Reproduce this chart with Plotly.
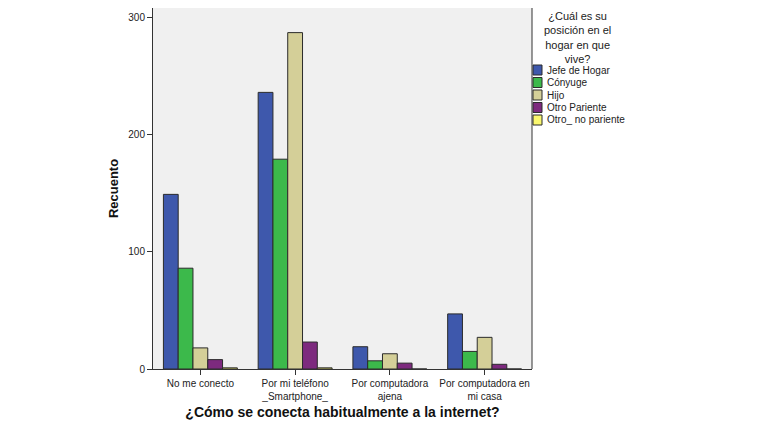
import plotly.graph_objects as go

# categorias del eje X
categorias = ["No me conecto", "Por mi teléfono<br>_Smartphone_",
              "Por computadora<br>ajena", "Por computadora en<br>mi casa"]

# series (posición en el hogar)
series = ["Jefe de Hogar", "Cónyuge", "Hijo", "Otro Pariente", "Otro_ no pariente"]
jefe = [149, 236, 19, 47]
conyuge = [86, 179, 7, 15]
hijo = [18, 287, 13, 27]
otro_pariente = [8, 23, 5, 4]
otro_no_pariente = [1, 1, 0, 0]
valores = [jefe, conyuge, hijo, otro_pariente, otro_no_pariente]

titulo_leyenda = "¿Cuál es su<br>posición en el<br>hogar en que<br>vive?"

colores = ["#3E58AC", "#3CB94B", "#D4CF98", "#7D2A7E", "#FAF76E"]

fuente = "Arial, Liberation Sans, sans-serif"

# la página html deja 8px de margen, así que la figura es un poco más chica
ancho, alto = 762, 422
m_izq, m_der, m_arr, m_aba = 145, 238, 0, 61
alto_plot = alto - m_arr - m_aba
ancho_plot = ancho - m_izq - m_der

fig = go.Figure()
for nombre, vals, col in zip(series, valores, colores):
    fig.add_trace(go.Bar(x=categorias, y=vals, name=nombre,
                         marker=dict(color=col, line=dict(color="#2b2b2b", width=1)),
                         showlegend=False))

# leyenda dibujada a mano (SPSS la pone muy compacta)
anots = [dict(text=titulo_leyenda, xref="paper", yref="paper",
              x=1 + 45 / ancho_plot, y=1, xanchor="center", yanchor="top",
              showarrow=False, align="center",
              font=dict(size=11, color="#222", family=fuente))]
formas = []
for i, (nombre, col) in enumerate(zip(series, colores)):
    yc = 1 - (62 + i * 12.5) / alto_plot
    anots.append(dict(text=nombre, xref="paper", yref="paper", x=1 + 13 / ancho_plot, y=yc,
                      xanchor="left", yanchor="middle", showarrow=False,
                      font=dict(size=10, color="#222", family=fuente)))
    formas.append(dict(type="rect", xref="paper", yref="paper",
                       x0=1 + 1 / ancho_plot, x1=1 + 10 / ancho_plot,
                       y0=yc - 5 / alto_plot, y1=yc + 5 / alto_plot,
                       fillcolor=col, line=dict(color="#2b2b2b", width=1)))
# borde derecho del área de trazado
formas.append(dict(type="line", xref="paper", yref="paper", x0=1, x1=1, y0=0, y1=1,
                   line=dict(color="#333", width=1)))

fig.update_layout(
    width=ancho, height=alto,
    margin=dict(l=m_izq, r=m_der, t=m_arr, b=m_aba),
    paper_bgcolor="white", plot_bgcolor="#F0F0F0",
    barmode="group", bargap=0.22, bargroupgap=0,
    font=dict(family=fuente, size=10, color="#222"),
    annotations=anots, shapes=formas,
)
fig.update_xaxes(title=dict(text="<b>¿Cómo se conecta habitualmente a la internet?</b>",
                            font=dict(size=14, color="#111"), standoff=6),
                 showline=True, linecolor="#333", linewidth=1,
                 ticks="outside", ticklen=5, tickcolor="#333", showgrid=False,
                 tickfont=dict(size=10))
fig.update_yaxes(title=dict(text="<b>Recuento</b>", font=dict(size=13, color="#111"), standoff=6),
                 range=[0, 308], tickvals=[0, 100, 200, 300],
                 showline=True, linecolor="#333", linewidth=1,
                 ticks="outside", ticklen=5, tickcolor="#333", showgrid=False,
                 zeroline=False, tickfont=dict(size=10))

fig.write_html("out.html")
